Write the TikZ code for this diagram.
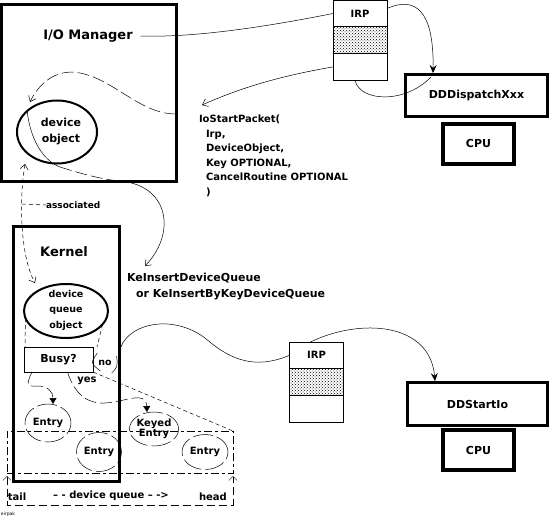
\documentclass[tikz,border=0pt]{standalone}
\usepackage{fontspec}
\setmainfont{DejaVu Sans}
\usetikzlibrary{arrows.meta,patterns,positioning,shapes.geometric}
\begin{document}
\begin{tikzpicture}[
    x=1pt, y=-1pt,
    font=\bfseries\fontsize{11}{13}\selectfont,
    every node/.style={inner sep=0pt, outer sep=0pt},
    heavybox/.style={draw, line width=3pt},
    irprow/.style={draw, line width=0.7pt, minimum width=54pt, minimum height=26.7pt, font=\bfseries\fontsize{10}{12}\selectfont},
    cpubox/.style={draw, line width=4pt, minimum width=71pt, minimum height=40pt},
    oval/.style={draw, ellipse, line width=2pt},
    entry/.style={draw, ellipse, line width=0.5pt, dash pattern=on 20pt off 4pt, align=center, font=\bfseries\fontsize{10}{12}\selectfont},
    small/.style={font=\bfseries\fontsize{10}{12}\selectfont},
    title/.style={font=\bfseries\fontsize{13}{15}\selectfont},
    wire/.style={line width=0.5pt},
    longdash/.style={wire, dash pattern=on 12pt off 4pt},
    shortdash/.style={wire, dash pattern=on 4pt off 3pt},
    barb/.style={-{Straight Barb[length=5pt,width=8pt]}},
    spike/.style={-{Stealth[length=8pt,width=7pt,inset=3pt]}},
    wedge/.style={-{Triangle[length=6pt,width=7pt]}}
  ]
  \fill[white] (0,0) rectangle (551,527);
  \useasboundingbox (0,0) rectangle (551,527);

  \node[heavybox, minimum width=175pt, minimum height=177pt] (iomgr) at (89,93) {};
  \node[title] (iotitle) at (88,36) {I/O Manager};
  \node[oval, minimum width=80pt, minimum height=63pt] (devobj) at (57,132) {};
  \node[align=center, font=\bfseries\fontsize{11}{16}\selectfont] (devtext) at (61,132) {device\\object};

  \node[irprow] (irpa) at (360,13.5) {IRP};
  \node[irprow, below=0pt of irpa, pattern=crosshatch dots] (irpb) {};
  \node[irprow, below=0pt of irpb] (irpc) {};
  \draw[line width=1.5pt] (irpb.south west) -- (irpb.south east);

  \node[heavybox, minimum width=142pt, minimum height=42pt] (dispatch) at (476.5,95.5) {DDDispatchXxx};
  \node[cpubox] (cpua) at (478.5,143.5) {CPU};

  \node[small, anchor=base west] (sp) at (199,122.5) {IoStartPacket(};
  \node[small, anchor=base west] (spirp) at (206,137) {Irp,};
  \node[small, anchor=base west] (spdev) at (206,151.5) {DeviceObject,};
  \node[small, anchor=base west] (spkey) at (206,166) {Key OPTIONAL,};
  \node[small, anchor=base west] (spcan) at (206,180.5) {CancelRoutine OPTIONAL};
  \node[small, anchor=base west] (spend) at (206,195) {)};

  \node[heavybox, minimum width=106pt, minimum height=255pt] (kernel) at (66.5,354) {};
  \node[title] (ktitle) at (64,252) {Kernel};
  \node[oval, minimum width=84pt, minimum height=54pt] (dqobj) at (66,311) {};
  \node[align=center, font=\bfseries\fontsize{9.5}{15.5}\selectfont] (dqtext) at (66,310) {device\\queue\\object};
  \node[draw, line width=0.7pt, minimum width=69pt, minimum height=25pt] (busy) at (58.5,359.5) {Busy?};
  \node[font=\bfseries\fontsize{9.5}{11}\selectfont] (no) at (105,363) {no};
  \node[small] (yes) at (87,381) {yes};

  \node[anchor=base west] (kiq) at (127,281) {KeInsertDeviceQueue};
  \node[anchor=base west] (kbk) at (136,297) {or KeInsertByKeyDeviceQueue};
  \node[font=\bfseries\fontsize{9}{11}\selectfont, anchor=west] (assoc) at (46,205) {associated};

  \node[irprow] (irpd) at (316.5,355.3) {IRP};
  \node[irprow, below=0pt of irpd, pattern=crosshatch dots] (irpe) {};
  \node[irprow, below=0pt of irpe] (irpf) {};
  \draw[line width=1.5pt] (irpe.north west) -- (irpe.north east);
  \draw[line width=1.5pt] (irpe.south west) -- (irpe.south east);

  \node[heavybox, minimum width=140pt, minimum height=43pt] (startio) at (477.5,404) {DDStartIo};
  \node[cpubox] (cpub) at (478.5,450) {CPU};

  \node[draw, wire, dash pattern=on 8pt off 3pt on 3pt off 3pt, minimum width=226pt, minimum height=42pt] (queue) at (120,452) {};
  \node[entry, minimum width=46pt, minimum height=38pt] (ea) at (48,423) {Entry};
  \node[entry, minimum width=45pt, minimum height=39pt] (eb) at (99,452) {Entry};
  \node[entry, minimum width=45pt, minimum height=34pt, font=\bfseries\fontsize{10}{10.5}\selectfont] (keyed) at (154,429) {Keyed\\Entry};
  \node[entry, minimum width=46pt, minimum height=35pt] (ec) at (205,452) {Entry};

  \node[small] (tail) at (17,497) {tail};
  \node[small] (devq) at (111,496) {– - device queue – ->};
  \node[small] (head) at (213,497) {head};
  \node[font=\fontsize{4.5}{5}\selectfont, anchor=west] (tag) at (1,514) {eirpak};

  \coordinate (spTip) at (202,105);
  \coordinate (spTail) at (176,114);
  \coordinate (doTip) at (30,102);
  \coordinate (doIn) at (27,110);
  \coordinate (doOut) at (60,167);
  \coordinate (doMid) at (127,182);
  \coordinate (kiqTip) at (145,266);
  \coordinate (assocUp) at (25,164);
  \coordinate (assocDown) at (35,283);
  \coordinate (assocKnee) at (22,204);
  \coordinate (dispTip) at (433,73);
  \coordinate (dispIn) at (431,77);
  \coordinate (startTip) at (435,381);

  \draw[wire] ([xshift=8pt]iotitle.east) .. controls (200,38) and (280,24) .. (irpa.west);
  \draw[wire, barb] (irpc.west) .. controls (280,76) and (240,88) .. (spTip);
  \draw[longdash, barb] (spTail) .. controls (140,114) and (115,80) .. (80,73) .. controls (55,68) and (38,85) .. (doTip);
  \draw[wire] (doIn) .. controls (30,138) and (42,160) .. (doOut);
  \draw[longdash] (doOut) .. controls (85,175) and (105,180) .. (doMid);
  \draw[wire, barb] (doMid) .. controls (170,190) and (175,235) .. (kiqTip);

  \draw[shortdash, {Straight Barb[length=5pt,width=8pt]}-{Straight Barb[length=5pt,width=8pt]}] (assocUp) .. controls (19,200) and (20,255) .. (assocDown);
  \draw[shortdash] (assocKnee) -- (assoc.west);

  \draw[wire, spike] ([yshift=5pt]irpa.east) .. controls (415,-4) and (434,10) .. (dispTip);
  \draw[wire] ([xshift=-5pt]irpc.south) .. controls (360,102) and (405,104) .. (dispIn);

  \draw[shortdash] (dqobj.190) -- ([xshift=1pt]busy.north west);
  \draw[shortdash] (dqobj.-20) -- ([xshift=4pt]busy.north east);
  \draw[wire] ([xshift=-1pt,yshift=10pt]no.west) .. controls ([xshift=-8pt]no.west) .. ([xshift=2pt,yshift=-8pt]no.west);
  \draw[wire] ([xshift=5pt,yshift=7pt]no.east) .. controls ([xshift=6pt,yshift=-4pt]no.east) .. ([yshift=-10pt]no.east);
  \draw[wire] ([yshift=2pt]kernel.east) .. controls (124,325) and (170,312) .. (205,338) .. controls (225,355) and (250,372) .. (irpd.west);
  \draw[wire, spike] ([xshift=-6pt]irpd.north) .. controls (360,318) and (430,322) .. (startTip);

  \draw[longdash, wedge] ([xshift=8pt]busy.south west) .. controls (24,388) and (30,386) .. (38,386) .. controls (48,386) and (53,392) .. ([xshift=5pt]ea.north);
  \draw[longdash, wedge] ([xshift=9pt]busy.south) .. controls (75,395) and (88,404) .. (105,403) .. controls (125,402) and (146,390) .. ([xshift=-7pt]keyed.north);
  \draw[shortdash] (busy.south east) -- (queue.north east);

  \draw[wire, dash pattern=on 8pt off 4pt, {Straight Barb[length=4pt,width=8pt]}-{Straight Barb[length=4pt,width=8pt]}] ([yshift=-3pt]queue.south west) -- ([yshift=-32pt]queue.south west) -- ([yshift=-32pt]queue.south east) -- ([yshift=-3pt]queue.south east);
\end{tikzpicture}
\end{document}
